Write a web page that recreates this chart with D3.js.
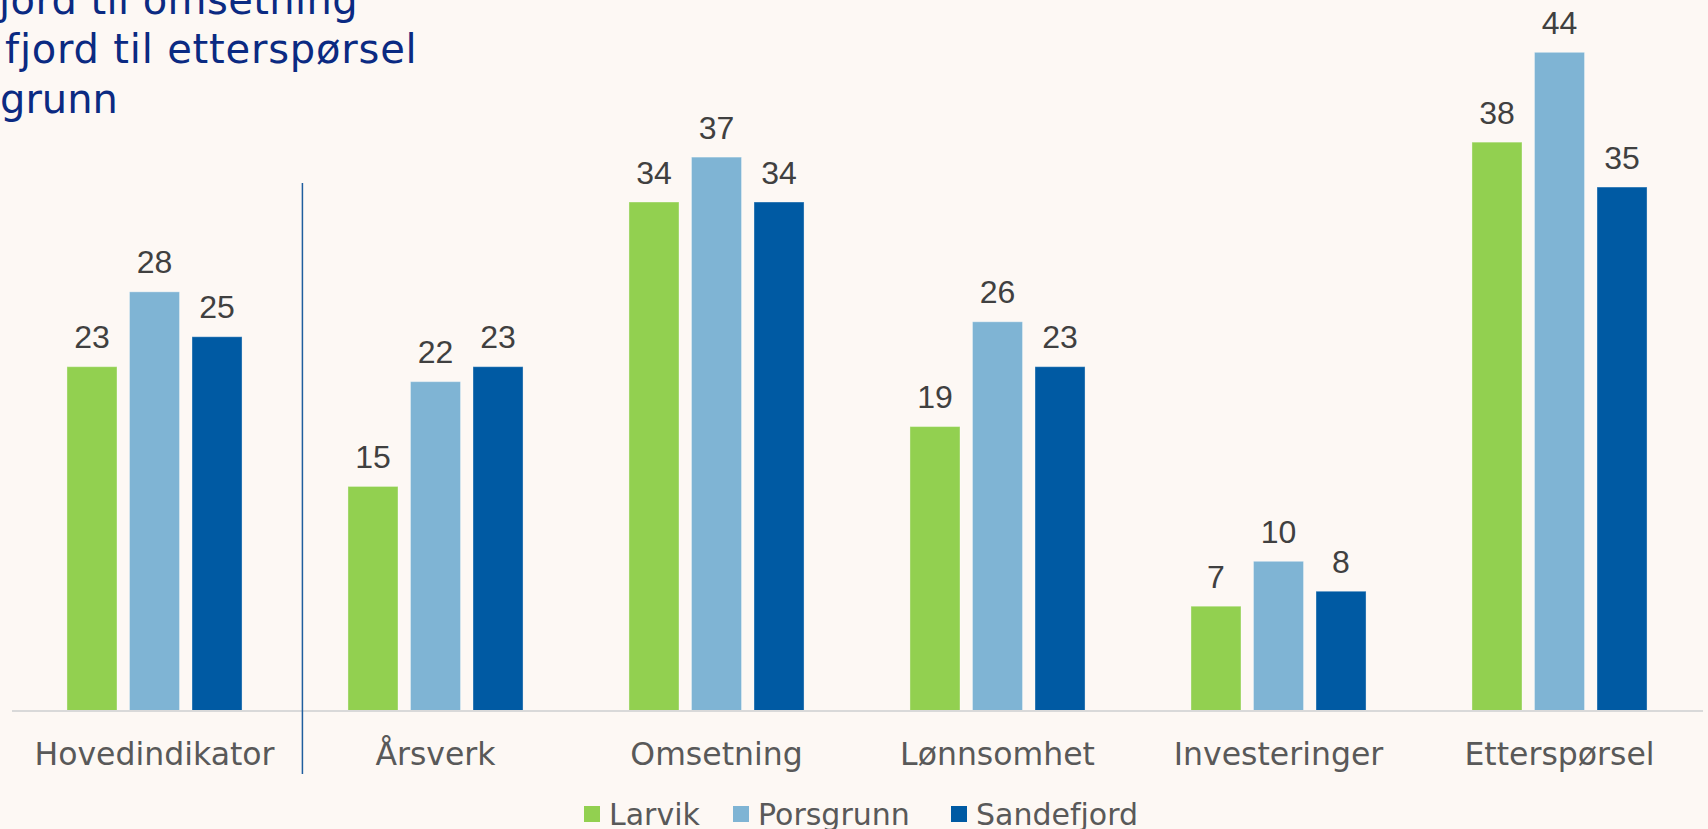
<!DOCTYPE html>
<html>
<head>
<meta charset="utf-8">
<script src="https://cdn.jsdelivr.net/npm/d3@7"></script>
<style>
  html, body { margin: 0; padding: 0; background: #fdf8f4; overflow: hidden; }
  svg { display: block; }
</style>
</head>
<body>
<svg id="chart" width="1708" height="829"></svg>
<script>
const categories = ["Hovedindikator", "Årsverk", "Omsetning", "Lønnsomhet", "Investeringer", "Etterspørsel"];
const seriesNames = ["Larvik", "Porsgrunn", "Sandefjord"];
const larvik = [23, 15, 34, 19, 7, 38];
const porsgrunn = [28, 22, 37, 26, 10, 44];
const sandefjord = [25, 23, 34, 23, 8, 35];
const titleLines = ["jord til omsetning", "fjord til etterspørsel", "grunn"];
const colors = ["#92d050", "#7fb4d4", "#005aa3"];

const seriesValues = [larvik, porsgrunn, sandefjord];
const data = categories.map((c, i) => ({
  cat: c,
  values: seriesNames.map((s, j) => ({ series: s, value: seriesValues[j][i] }))
}));

const svg = d3.select("#chart");
const baseY = 711;
const sansFont = "'DejaVu Sans', Verdana, sans-serif";

const x0 = d3.scaleBand().domain(categories).range([14, 1700]).paddingInner(0.377).paddingOuter(0.1885);
const x1 = d3.scaleBand().domain(seriesNames).range([0, x0.bandwidth()]).paddingInner(0.2);
const y = d3.scaleLinear().domain([0, 47]).range([baseY, baseY - 47 * 14.97]);
const color = d3.scaleOrdinal().domain(seriesNames).range(colors);

// Title (partially visible, cut at the left/top edge)
const titleG = svg.append("g");
const titleLeft = [-1, 5, 0];
const titleBase = [14, 63, 113];
const titleSpacing = [0.4, 0.8, 0];
titleLines.forEach((t, i) => {
  titleG.append("text")
    .attr("x", titleLeft[i]).attr("y", titleBase[i])
    .attr("font-family", sansFont)
    .attr("font-size", 40)
    .attr("letter-spacing", titleSpacing[i])
    .attr("fill", "#0b2a82")
    .text(t);
});

// Bars
const groups = svg.append("g").selectAll("g")
  .data(data).join("g")
  .attr("transform", d => `translate(${x0(d.cat)},0)`);

groups.selectAll("rect")
  .data(d => d.values).join("rect")
  .attr("x", d => x1(d.series))
  .attr("y", d => y(d.value))
  .attr("width", x1.bandwidth())
  .attr("height", d => y(0) - y(d.value))
  .attr("fill", d => color(d.series))
  .attr("stroke", "#ffffff")
  .attr("stroke-opacity", 0.35)
  .attr("stroke-width", 1);

groups.selectAll("text.val")
  .data(d => d.values).join("text")
  .attr("class", "val")
  .attr("x", d => x1(d.series) + x1.bandwidth() / 2)
  .attr("y", d => y(d.value) - 18.5)
  .attr("text-anchor", "middle")
  .attr("font-family", "'Liberation Sans', Arial, sans-serif")
  .attr("font-size", 32)
  .attr("fill", "#404040")
  .text(d => d.value);

// X axis
const xAxis = d3.axisBottom(x0).tickSize(0).tickPadding(0);
const axG = svg.append("g").attr("transform", `translate(0,${baseY})`).call(xAxis);
axG.select(".domain").remove();
axG.append("line").attr("x1", 12).attr("x2", 1703).attr("y1", 0).attr("y2", 0)
  .attr("stroke", "#d9d9d9").attr("stroke-width", 2);
axG.selectAll(".tick text")
  .attr("y", 54)
  .attr("dy", 0)
  .attr("font-family", sansFont)
  .attr("font-size", 31.5)
  .attr("fill", "#595959");

// Separator after first category
const sepX = x0(categories[0]) + x0.bandwidth() + (x0.step() - x0.bandwidth()) * 0.57;
svg.append("line")
  .attr("x1", sepX).attr("x2", sepX)
  .attr("y1", 183).attr("y2", 774)
  .attr("stroke", "#1f5e9e").attr("stroke-width", 1.5);

// Legend
const legendX = [584, 733, 951];
const legend = svg.append("g");
seriesNames.forEach((s, i) => {
  legend.append("rect")
    .attr("x", legendX[i]).attr("y", 806)
    .attr("width", 16).attr("height", 16)
    .attr("fill", color(s));
  legend.append("text")
    .attr("x", legendX[i] + 25).attr("y", 825)
    .attr("font-family", sansFont)
    .attr("font-size", 30)
    .attr("fill", "#595959")
    .text(s);
});
</script>
</body>
</html>
